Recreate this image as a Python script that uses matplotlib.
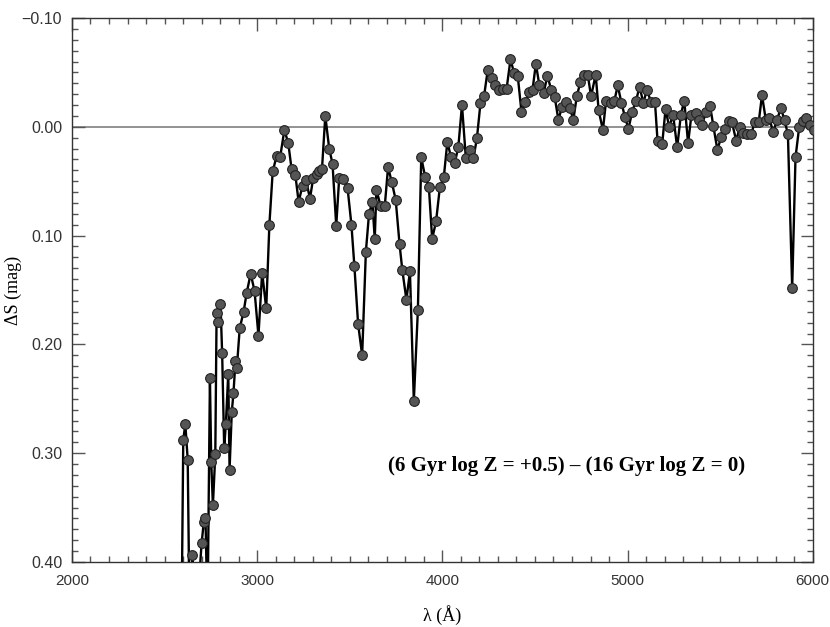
import matplotlib.pyplot as plt
from matplotlib.ticker import MultipleLocator

# Difference spectrum : (6 Gyr log Z = +0.5) - (16 Gyr log Z = 0)

lam = [2592, 2601, 2612, 2625, 2635, 2650, 2673, 2700, 2712, 2721,
       2732, 2745, 2752, 2761, 2774, 2781, 2791, 2802, 2811, 2822,
       2831, 2844, 2851, 2863, 2872, 2883, 2890, 2906, 2927, 2943,
       2965, 2986, 3007, 3027, 3049, 3066, 3084, 3105, 3124, 3147,
       3168, 3186, 3206, 3224, 3245, 3264, 3285, 3303, 3321, 3335,
       3350, 3368, 3389, 3407, 3427, 3443, 3464, 3488, 3509, 3525,
       3545, 3567, 3587, 3604, 3622, 3635, 3644, 3667, 3689, 3707,
       3727, 3748, 3769, 3784, 3806, 3825, 3846, 3868, 3886, 3907,
       3927, 3945, 3966, 3987, 4008, 4027, 4047, 4067, 4086, 4106,
       4127, 4147, 4168, 4187, 4206, 4225, 4245, 4267, 4287, 4304,
       4326, 4347, 4368, 4388, 4407, 4427, 4448, 4470, 4487, 4505,
       4524, 4547, 4567, 4588, 4607, 4627, 4645, 4667, 4690, 4707,
       4726, 4745, 4765, 4785, 4803, 4828, 4844, 4867, 4884, 4910,
       4929, 4947, 4967, 4986, 5005, 5025, 5046, 5065, 5085, 5105,
       5126, 5148, 5162, 5187, 5205, 5225, 5246, 5268, 5288, 5306,
       5327, 5345, 5367, 5385, 5404, 5423, 5446, 5463, 5485, 5507,
       5525, 5546, 5564, 5587, 5606, 5625, 5645, 5668, 5686, 5708,
       5726, 5747, 5765, 5787, 5806, 5828, 5848, 5866, 5889, 5907,
       5927, 5946, 5966, 5986, 6005]

dS = [0.450, 0.288, 0.273, 0.306, 0.450, 0.394, 0.450, 0.383, 0.363, 0.360,
      0.450, 0.231, 0.308, 0.348, 0.301, 0.171, 0.179, 0.163, 0.208, 0.295,
      0.273, 0.227, 0.315, 0.262, 0.245, 0.215, 0.222, 0.185, 0.170, 0.153,
      0.135, 0.151, 0.192, 0.134, 0.167, 0.090, 0.041, 0.027, 0.028, 0.003,
      0.015, 0.039, 0.044, 0.069, 0.054, 0.049, 0.066, 0.047, 0.043, 0.041,
      0.039, -0.010, 0.020, 0.034, 0.091, 0.047, 0.048, 0.056, 0.090, 0.128,
      0.181, 0.210, 0.115, 0.080, 0.069, 0.103, 0.058, 0.073, 0.073, 0.037,
      0.051, 0.067, 0.108, 0.132, 0.159, 0.133, 0.252, 0.168, 0.028, 0.046,
      0.055, 0.103, 0.087, 0.055, 0.046, 0.014, 0.028, 0.033, 0.019, -0.020,
      0.029, 0.021, 0.029, 0.010, -0.022, -0.028, -0.052, -0.045, -0.038, -0.034,
      -0.035, -0.035, -0.062, -0.049, -0.047, -0.014, -0.023, -0.032, -0.034, -0.058,
      -0.038, -0.031, -0.047, -0.034, -0.027, -0.006, -0.018, -0.023, -0.017, -0.006,
      -0.028, -0.041, -0.048, -0.048, -0.028, -0.048, -0.015, 0.003, -0.024, -0.022,
      -0.024, -0.038, -0.022, -0.009, 0.002, -0.014, -0.024, -0.037, -0.022, -0.034,
      -0.023, -0.023, 0.013, 0.016, -0.016, 0.000, -0.011, 0.019, -0.011, -0.024,
      0.015, -0.011, -0.013, -0.006, -0.002, -0.014, -0.019, -0.001, 0.021, 0.009,
      0.002, -0.005, -0.004, 0.013, 0.000, 0.006, 0.007, 0.007, -0.004, -0.004,
      -0.029, -0.006, -0.008, 0.005, -0.006, -0.017, -0.006, 0.007, 0.148, 0.028,
      0.000, -0.005, -0.008, -0.002, 0.003]

yticks = [-0.10, 0.00, 0.10, 0.20, 0.30, 0.40]
ylabels = ["\u22120.10", "0.00", "0.10", "0.20", "0.30", "0.40"]
xticks = [2000, 3000, 4000, 5000, 6000]
titre = "(6 Gyr log Z = +0.5) \u2013 (16 Gyr log Z = 0)"

fig = plt.figure(figsize=(8.3, 6.27), dpi=100)
ax = fig.add_axes([0.0867, 0.1037, 0.8925, 0.8676])

ax.axhline(0.0, color="#7f7f7f", lw=1.2, zorder=1)
ax.plot(lam, dS, color="black", lw=1.7, marker="o", ms=7,
        mfc="#555555", mec="#222222", mew=0.8, zorder=3)

ax.set_xlim(2000, 6000)
ax.set_ylim(0.40, -0.10)

ax.set_xticks(xticks)
ax.set_xticklabels([str(v) for v in xticks], family="Liberation Sans",
                   fontsize=11, color="#333333")
ax.xaxis.set_minor_locator(MultipleLocator(100))
ax.set_yticks(yticks)
ax.set_yticklabels(ylabels, family="Liberation Sans", fontsize=11.5, color="#333333")
ax.yaxis.set_minor_locator(MultipleLocator(0.01))

ax.tick_params(which="both", direction="in", top=True, right=True,
               color="#555555", width=1.0)
ax.tick_params(axis="x", which="major", length=9, pad=9)
ax.tick_params(axis="y", which="major", length=9, pad=7)
ax.tick_params(which="minor", length=4.5)
for s in ax.spines.values():
    s.set_color("#333333")
    s.set_linewidth(1.0)

ax.set_xlabel("\u03bb (\u00c5)", family="Liberation Serif", fontsize=13, labelpad=12)
ax.set_ylabel("\u0394S (mag)", family="Liberation Serif", fontsize=13)
ax.yaxis.set_label_coords(-0.068, 0.5)

ax.text(3705, 0.312, titre, family="Liberation Serif", fontweight="bold",
        fontsize=15, va="center", ha="left")

fig.savefig("out.png", dpi=100)
